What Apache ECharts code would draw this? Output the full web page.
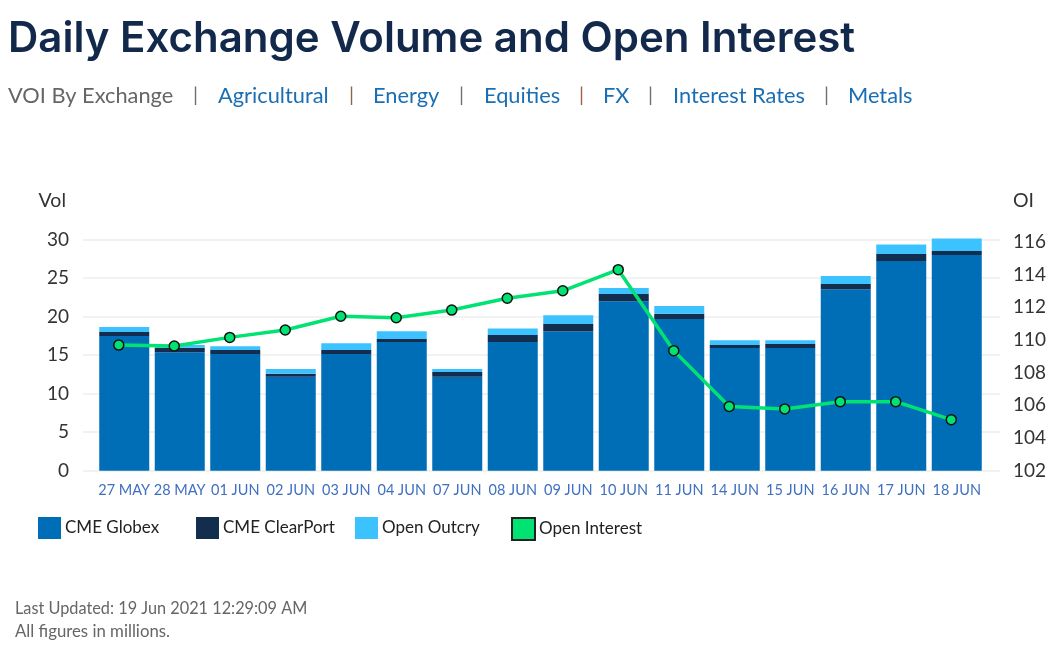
<!DOCTYPE html>
<html lang="en">
<head>
    <meta charset="utf-8">
    <title>Daily Exchange Volume and Open Interest</title>
    <script src="https://cdn.jsdelivr.net/npm/echarts@6/dist/echarts.min.js"></script>
    <style>
        html, body { margin: 0; padding: 0; background: #fff; }
        #main { width: 1054px; height: 646px; }
    </style>
</head>
<body>
    <div id="main"></div>

<script type="text/javascript">
    var dates = ['27 MAY','28 MAY','01 JUN','02 JUN','03 JUN','04 JUN','07 JUN','08 JUN',
                 '09 JUN','10 JUN','11 JUN','14 JUN','15 JUN','16 JUN','17 JUN','18 JUN'];
    var globex = [17.49,15.37,15.15,12.20,15.15,16.71,12.20,16.71,18.10,22.00,19.70,15.93,15.93,23.55,27.23,28.00];
    var clearport = [0.51,0.60,0.52,0.40,0.52,0.39,0.61,0.91,0.95,0.94,0.69,0.39,0.52,0.69,0.91,0.53];
    var outcry = [0.66,0.35,0.48,0.60,0.87,1.00,0.39,0.86,1.15,0.78,1.00,0.61,0.48,1.04,1.25,1.64];
    var openInterest = [109.68,109.62,110.15,110.6,111.44,111.35,111.82,112.54,113.0,114.29,109.34,105.93,105.77,106.22,106.22,105.12];

    var navNames = ['Agricultural','Energy','Equities','FX','Interest Rates','Metals'];
    var navX = [218,373,484,603,673,848];
    var sepX = [193,349,459,579,648,824];
    var sepColors = ['#6f6f6f','#8a6a4a','#6f6f6f','#a0604a','#6f6f6f','#6f6f6f'];

    var FONT = 'Lato';
    var TOP = 239.7, H = 231;

    var myChart = echarts.init(document.getElementById("main"));

    function text(x, y, str, size, color, weight, family) {
        return {
            type: 'text', x: x, y: y,
            style: { text: str, fontFamily: family || FONT, fontSize: size, fontWeight: weight || 'normal', fill: color, textVerticalAlign: 'middle' }
        };
    }

    var headerText = [
        text(8, 39, 'Daily Exchange Volume and Open Interest', 42, '#12294b', 600, 'Inter'),
        text(8, 96, 'VOI By Exchange', 21.8, '#666666'),
        text(15, 609, 'Last Updated: 19 Jun 2021 12:29:09 AM', 16.3, '#666666'),
        text(15, 632, 'All figures in millions.', 16.8, '#666666')
    ];
    navNames.forEach(function (name, i) {
        headerText.push(text(navX[i], 96, name, 21.8, '#1a6fb4'));
        headerText.push(text(sepX[i], 96, '|', 20, sepColors[i]));
    });

    function legendItem(left, name, style) {
        return {
            left: left, top: 517, padding: 0, itemWidth: 23, itemHeight: 22, itemGap: 5,
            selectedMode: false,
            textStyle: { fontFamily: FONT, fontSize: 17, color: '#222222', padding: [2, 0, 0, -1] },
            data: [{ name: name, icon: 'rect', itemStyle: style }]
        };
    }

    var option = {
        animation: false,
        textStyle: { fontFamily: FONT },
        graphic: headerText,
        legend: [
            legendItem(38, 'CME Globex', { color: '#006eb6' }),
            legendItem(196, 'CME ClearPort', { color: '#132d4e' }),
            legendItem(355, 'Open Outcry', { color: '#3cc3ff' }),
            legendItem(511, 'Open Interest', { color: '#00e272', borderColor: '#222222', borderWidth: 2 })
        ],
        grid: [
            // 网格线比柱子区域宽
            { left: 83, width: 917, top: TOP, height: H },
            { left: 96.5, width: 888, top: TOP - 2 * 7.7, height: H + 2 * 7.7 },
            // 右轴的刻度和左轴网格线不完全对齐
            { left: 91, width: 888, top: 241.7, height: 229 }
        ],
        xAxis: [
            { type: 'category', gridIndex: 0, data: dates, show: false },
            {
                type: 'category', gridIndex: 1, data: dates,
                axisLine: { show: false }, axisTick: { show: false },
                axisLabel: { interval: 0, color: '#3f6fc0', fontSize: 14.5, margin: 12, fontFamily: FONT }
            },
            { type: 'category', gridIndex: 2, data: dates, show: false }
        ],
        yAxis: [
            {
                type: 'value', gridIndex: 0, min: 0, max: 30, interval: 5,
                name: 'Vol', nameGap: 29,
                nameTextStyle: { fontSize: 19.5, color: '#333333', align: 'right', padding: [0, 17, 0, 0], fontFamily: FONT },
                axisLine: { show: false }, axisTick: { show: false },
                axisLabel: { color: '#333333', fontSize: 19, margin: 14, fontFamily: FONT },
                splitLine: { lineStyle: { color: '#f2f2f2', width: 2 } }
            },
            { type: 'value', gridIndex: 1, min: 0, max: 32, show: false },
            {
                type: 'value', gridIndex: 2, position: 'right', offset: 21, min: 102, max: 116, interval: 2,
                name: 'OI', nameGap: 31,
                nameTextStyle: { fontSize: 19.5, color: '#333333', align: 'left', padding: [0, 0, 0, 13], fontFamily: FONT },
                axisLine: { show: false }, axisTick: { show: false },
                axisLabel: { color: '#333333', fontSize: 19, margin: 13, fontFamily: FONT },
                splitLine: { show: false }
            }
        ],
        series: [
            { name: 'CME Globex', type: 'bar', stack: 'vol', xAxisIndex: 1, yAxisIndex: 1, barWidth: 50, itemStyle: { color: '#006eb6' }, data: globex },
            { name: 'CME ClearPort', type: 'bar', stack: 'vol', xAxisIndex: 1, yAxisIndex: 1, barWidth: 50, itemStyle: { color: '#132d4e' }, data: clearport },
            { name: 'Open Outcry', type: 'bar', stack: 'vol', xAxisIndex: 1, yAxisIndex: 1, barWidth: 50, itemStyle: { color: '#3cc3ff' }, data: outcry },
            {
                name: 'Open Interest', type: 'line', xAxisIndex: 2, yAxisIndex: 2, z: 5,
                symbol: 'circle', symbolSize: 10,
                lineStyle: { color: '#00e272', width: 3.5 },
                itemStyle: { color: '#00e272', borderColor: '#111111', borderWidth: 1.5 },
                data: openInterest
            }
        ]
    };

    myChart.setOption(option);
</script>
</body>
</html>
